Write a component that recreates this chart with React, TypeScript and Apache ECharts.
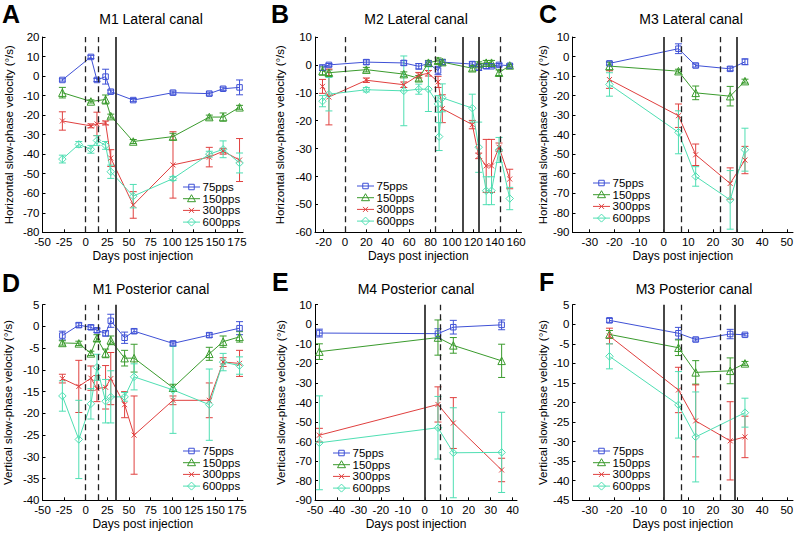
import React, { useEffect, useRef } from 'react';
import * as echarts from 'echarts';

const FONT = '"Liberation Sans", Arial, Helvetica, sans-serif';
const SERIES_NAMES = ['75pps', '150pps', '300pps', '600pps'];
const COLORS = ['#3f51d6', '#3a9b2d', '#e0403f', '#4fdfb3'];
const SYMBOLS = [
  'path://M0,0L10,0L10,10L0,10Z',
  'path://M5,0L10,9L0,9Z',
  'path://M0,0L10,10M0,10L10,0',
  'path://M5,0L10,5L5,10L0,5Z',
];
const SYMBOL_SIZES = [5.5, 7.5, 5, 7.5];

// [day, mean velocity, error]
const A_75 = [[-27, -2, 0.6], [6, 9.8, 0.8], [13, -2, 0.8], [23, -0.3, 3.8], [29, -8, 0.8], [55, -12.3, 0.8], [101, -8.5, 0.8], [143, -9, 0.8], [159, -6.5, 0.8], [178, -5.8, 3.8]];
const A_150 = [[-27, -8.5, 2.7], [6, -13, 0.8], [23, -12, 2.3], [29, -20.5, 1], [55, -33.5, 1], [101, -31, 1.7], [143, -21, 1], [159, -21, 2.1], [178, -16, 1]];
const A_300 = [[-27, -23, 4.7], [6, -25.5, 1], [13, -24.5, 6], [23, -24, 1], [29, -42, 4.3], [55, -66, 6.8], [101, -45.5, 17], [143, -41.5, 5], [159, -38.5, 1.5], [178, -43, 11]];
const A_600 = [[-27, -42.5, 2], [-8, -35, 1.5], [6, -37.5, 2], [13, -33, 2.5], [23, -35.5, 2], [29, -49, 3.4], [55, -61.5, 6], [101, -52.5, 1], [143, -40, 1.5], [159, -37.5, 4.3], [178, -44.5, 5.1]];

const B_75 = [[-21, -1, 1], [-15, 0, 0.5], [20, 1, 0.8], [55, 0.7, 0.8], [69, -0.5, 1], [78, 0.5, 0.5], [87, -2, 1.5], [91, 1, 0.8], [119, 0.3, 0.8], [125, -0.8, 1.2], [132, -0.5, 0.8], [137, -0.5, 0.5], [144, 0, 0.5], [154, -0.3, 0.5]];
const B_150 = [[-21, -2.2, 1.5], [-15, -2.8, 1], [20, -1.7, 0.8], [55, -3.3, 0.8], [69, -4.8, 1], [78, 0.8, 0.8], [87, 1.5, 1], [91, 1, 1], [119, -1.2, 1], [125, 0.3, 0.8], [132, 0.8, 0.8], [137, 0.8, 0.8], [144, -2.8, 1], [154, -0.2, 0.5]];
const B_300 = [[-21, -7.7, 2.5], [-15, -11.5, 10], [20, -5.5, 0.8], [55, -7.1, 1], [69, -3.7, 1], [78, -3, 1], [87, -6.1, 2], [91, -15.7, 5], [119, -21.4, 1.5], [125, -32.6, 1], [132, -36.2, 9.5], [137, -36.2, 9.5], [144, -29.5, 1.5], [154, -40.9, 3.5]];
const B_600 = [[-21, -13, 2], [-15, -10.5, 6], [20, -8.9, 0.8], [55, -9.3, 12.5], [69, -8.7, 1.8], [78, -8.7, 8], [87, -14, 3], [88, -25.7, 5], [91, -11.8, 5], [119, -15.5, 5], [125, -29.5, 9], [132, -45.1, 5], [137, -45.1, 5], [144, -30.5, 4.5], [154, -47.9, 4]];

const C_75 = [[-22, -3.5, 0.8], [6, 4, 2.5], [13, -4.6, 0.8], [27, -6.3, 1], [33, -2.7, 1.5]];
const C_150 = [[-22, -4.9, 2], [6, -7.5, 1], [13, -18.6, 3.5], [27, -20.3, 5], [33, -12.6, 1]];
const C_300 = [[-22, -11.8, 4.5], [6, -30.3, 6], [13, -50.3, 5.5], [27, -65, 8], [33, -53, 7]];
const C_600 = [[-22, -14.3, 6], [6, -38.8, 11], [13, -61.4, 5], [27, -73.4, 15], [33, -47.7, 11]];

const D_75 = [[-27, -2.1, 1], [-8, 0.3, 0.5], [6, -0.2, 0.5], [13, -0.9, 0.5], [23, -1.6, 0.6], [29, 1.3, 1.5], [45, -2.6, 1.3], [56, -1.1, 0.5], [101, -3.9, 0.4], [143, -2, 0.5], [178, -0.4, 1.5]];
const D_150 = [[-27, -3.8, 0.5], [-8, -3.9, 0.5], [6, -6.2, 0.5], [13, -2.7, 0.8], [23, -6.2, 1], [29, -3.2, 1], [45, -7.3, 1.8], [56, -7.3, 3.2], [101, -14.1, 0.8], [143, -6.3, 1.5], [159, -3.5, 1.3], [178, -2.4, 1.2]];
const D_300 = [[-27, -12, 1], [-8, -13.8, 6], [6, -11.9, 2.8], [13, -14.3, 3], [23, -14, 5], [29, -12, 6], [45, -18, 3], [56, -25, 9], [101, -17, 1], [143, -17, 4], [159, -8.2, 1], [178, -8.5, 3]];
const D_600 = [[-27, -16, 3.5], [-8, -26, 9], [6, -17.8, 3.5], [13, -9.4, 3], [23, -17.2, 5], [29, -16.2, 6], [45, -16.2, 1], [56, -11.6, 3], [101, -14.6, 10], [143, -18, 8.2], [159, -8.2, 2], [178, -9, 2]];

const E_75 = [[-48, -4.5, 2], [6, -4.8, 2.5], [13, -1.5, 3.5], [35, -0.3, 2.5]];
const E_150 = [[-48, -14, 4], [6, -6.8, 9], [13, -10.8, 4], [35, -18.7, 8.5]];
const E_300 = [[-48, -56.7, 3.5], [6, -41, 9], [13, -50.5, 13], [35, -74.5, 6]];
const E_600 = [[-48, -60.6, 24], [6, -52.9, 16], [13, -65.7, 23], [35, -65.5, 20.5]];

const F_75 = [[-22, 1, 0.5], [6, -2.3, 1.5], [13, -3.9, 0.4], [27, -2.5, 1.2], [33, -2.7, 0.3]];
const F_150 = [[-22, -2.6, 1], [6, -6, 2], [13, -12.3, 3], [27, -11.9, 3.3], [33, -10, 0.5]];
const F_300 = [[-22, -3, 2], [6, -16.8, 5.8], [13, -24.7, 9.2], [27, -29.8, 10], [33, -28.8, 5.3]];
const F_600 = [[-22, -8.2, 3.2], [6, -20.6, 8.5], [13, -28.8, 11.5], [33, -22.6, 3.7]];

// injection / event days (vertical lines)
const A_DASHED = [0, 14.5];
const A_SOLID = [35];
const B_DASHED = [0, 84, 145];
const B_SOLID = [110, 125];
const C_DASHED = [7, 23];
const C_SOLID = [0, 29.5];
const D_DASHED = [0, 14.5];
const D_SOLID = [35];
const E_DASHED = [7];
const E_SOLID = [0];
const F_DASHED = [7, 23];
const F_SOLID = [0, 29];

const TICKS_AD = [-50, -25, 0, 25, 50, 75, 100, 125, 150, 175];
const TICKS_B = [-20, 0, 20, 40, 60, 80, 100, 120, 140, 160];
const TICKS_CF = [-30, -20, -10, 0, 10, 20, 30, 40, 50];
const TICKS_E = [-50, -40, -30, -20, -10, 0, 10, 20, 30, 40];

const H_NAME = 'Horizontal slow-phase velocity (°/s)';
const V_NAME = 'Vertical slow-phase velocity (°/s)';

const PANELS = [
  { letter: 'A', title: 'M1 Lateral canal', grid: [42.5, 37, 200.5, 195.3], x: [-50, 182], xTicks: TICKS_AD, y: [-80, 20, 10], yName: H_NAME, yGap: 28, titleX: 151, titleY: 19, letterX: 2, letterY: 14, legend: [183, 187], dashed: A_DASHED, solid: A_SOLID, data: [A_75, A_150, A_300, A_600] },
  { letter: 'B', title: 'M2 Lateral canal', grid: [315, 37, 206.5, 195.3], x: [-28, 165], xTicks: TICKS_B, y: [-60, 10, 10], yName: H_NAME, yGap: 29, titleX: 416, titleY: 19, letterX: 271, letterY: 14, legend: [357, 186], dashed: B_DASHED, solid: B_SOLID, data: [B_75, B_150, B_300, B_600] },
  { letter: 'C', title: 'M3 Lateral canal', grid: [572.5, 37, 220.5, 195.3], x: [-37, 52.5], xTicks: TICKS_CF, y: [-90, 10, 10], yName: H_NAME, yGap: 19, titleX: 691, titleY: 19, letterX: 539, letterY: 14, legend: [593, 183], dashed: C_DASHED, solid: C_SOLID, data: [C_75, C_150, C_300, C_600] },
  { letter: 'D', title: 'M1 Posterior canal', grid: [42.5, 304.7, 200.5, 195.6], x: [-50, 182], xTicks: TICKS_AD, y: [-40, 5, 5], yName: V_NAME, yGap: 29, titleX: 151, titleY: 289, letterX: 2, letterY: 283, legend: [183, 451], dashed: D_DASHED, solid: D_SOLID, data: [D_75, D_150, D_300, D_600] },
  { letter: 'E', title: 'M4 Posterior canal', grid: [315, 304.7, 202, 195.6], x: [-50, 42], xTicks: TICKS_E, y: [-90, 10, 10], yName: V_NAME, yGap: 28, titleX: 416, titleY: 289, letterX: 272, letterY: 282, legend: [333, 453], dashed: E_DASHED, solid: E_SOLID, data: [E_75, E_150, E_300, E_600] },
  { letter: 'F', title: 'M3 Posterior canal', grid: [572.5, 304.7, 220.5, 195.6], x: [-37, 52.5], xTicks: TICKS_CF, y: [-45, 5, 5], yName: V_NAME, yGap: 20, titleX: 694, titleY: 289, letterX: 539, letterY: 282, legend: [593, 451], dashed: F_DASHED, solid: F_SOLID, data: [F_75, F_150, F_300, F_600] },
];

const LEGEND_ROW = 11.7;

function makeErrRenderer(color: string) {
  return (params: any, api: any) => {
    const x = api.value(0);
    const y = api.value(1);
    const e = api.value(2);
    const top = api.coord([x, y + e]);
    const bot = api.coord([x, y - e]);
    const w = 3.5;
    const style = { stroke: color, lineWidth: 1, fill: null };
    return {
      type: 'group',
      children: [
        { type: 'line', shape: { x1: top[0], y1: top[1], x2: bot[0], y2: bot[1] }, style },
        { type: 'line', shape: { x1: top[0] - w, y1: top[1], x2: top[0] + w, y2: top[1] }, style },
        { type: 'line', shape: { x1: bot[0] - w, y1: bot[1], x2: bot[0] + w, y2: bot[1] }, style },
      ],
    };
  };
}

function legendMarker(k: number, cx: number, cy: number): any {
  const style = { stroke: COLORS[k], fill: 'rgba(255,255,255,0)', lineWidth: 1 };
  if (k === 0) return { type: 'rect', shape: { x: cx - 2.75, y: cy - 2.75, width: 5.5, height: 5.5 }, style, silent: true };
  if (k === 1) return { type: 'polygon', shape: { points: [[cx, cy - 4], [cx - 4, cy + 3], [cx + 4, cy + 3]] }, style, silent: true };
  if (k === 2)
    return {
      type: 'group',
      silent: true,
      children: [
        { type: 'line', shape: { x1: cx - 2.5, y1: cy - 2.5, x2: cx + 2.5, y2: cy + 2.5 }, style: { stroke: COLORS[k], lineWidth: 1 } },
        { type: 'line', shape: { x1: cx - 2.5, y1: cy + 2.5, x2: cx + 2.5, y2: cy - 2.5 }, style: { stroke: COLORS[k], lineWidth: 1 } },
      ],
    };
  return { type: 'polygon', shape: { points: [[cx, cy - 4], [cx + 4, cy], [cx, cy + 4], [cx - 4, cy]] }, style, silent: true };
}

function buildOption() {
  const grid = PANELS.map((p) => ({ left: p.grid[0], top: p.grid[1], width: p.grid[2], height: p.grid[3], containLabel: false }));
  const xAxis = PANELS.map((p, i) => ({
    type: 'value',
    gridIndex: i,
    min: p.x[0],
    max: p.x[1],
    name: 'Days post injection',
    nameLocation: 'middle',
    nameGap: 18,
    nameTextStyle: { fontSize: 12, color: '#000', fontFamily: FONT },
    axisLine: { show: true, onZero: false, lineStyle: { color: '#000', width: 1 } },
    axisTick: { show: true, inside: true, length: 3, customValues: p.xTicks, lineStyle: { color: '#000' } },
    axisLabel: { customValues: p.xTicks, margin: 4, fontSize: 11.5, color: '#000', fontFamily: FONT },
    splitLine: { show: false },
  }));
  const yAxis = PANELS.map((p, i) => ({
    type: 'value',
    gridIndex: i,
    min: p.y[0],
    max: p.y[1],
    interval: p.y[2],
    name: p.yName,
    nameLocation: 'middle',
    nameGap: p.yGap,
    nameRotate: 90,
    nameTextStyle: { fontSize: 11.5, color: '#000', fontFamily: FONT },
    axisLine: { show: true, onZero: false, lineStyle: { color: '#000', width: 1 } },
    axisTick: { show: true, inside: true, length: 3, lineStyle: { color: '#000' } },
    axisLabel: { margin: 3, fontSize: 11.5, color: '#000', fontFamily: FONT },
    splitLine: { show: false },
  }));

  const series: any[] = [];
  PANELS.forEach((p, i) => {
    p.data.forEach((pts, s) => {
      series.push({
        type: 'custom',
        name: `err-${p.letter}-${s}`,
        xAxisIndex: i,
        yAxisIndex: i,
        data: pts,
        encode: { x: 0, y: 1 },
        renderItem: makeErrRenderer(COLORS[s]),
        silent: true,
        clip: false,
        z: 2,
      });
    });
    p.data.forEach((pts, s) => {
      const ser: any = {
        type: 'line',
        name: SERIES_NAMES[s],
        xAxisIndex: i,
        yAxisIndex: i,
        data: pts.map((d) => [d[0], d[1]]),
        symbol: SYMBOLS[s],
        symbolSize: SYMBOL_SIZES[s],
        itemStyle: { color: 'rgba(255,255,255,0)', borderColor: COLORS[s], borderWidth: 1 },
        lineStyle: { color: COLORS[s], width: 1 },
        silent: true,
        z: 3,
      };
      if (s === 0) {
        ser.markLine = {
          silent: true,
          symbol: ['none', 'none'],
          label: { show: false },
          animation: false,
          data: [
            ...p.dashed.map((v) => ({ xAxis: v, lineStyle: { type: [6, 4], width: 1.3, color: '#222' } })),
            ...p.solid.map((v) => ({ xAxis: v, lineStyle: { type: 'solid', width: 1.8, color: '#333' } })),
          ],
        };
      }
      series.push(ser);
    });
  });

  const graphic: any[] = [];
  PANELS.forEach((p) => {
    graphic.push({
      type: 'text',
      x: p.titleX,
      y: p.titleY,
      silent: true,
      style: { text: p.title, fill: '#000', font: `14px ${FONT}`, textAlign: 'center', textVerticalAlign: 'middle' },
    });
    graphic.push({
      type: 'text',
      x: p.letterX,
      y: p.letterY,
      silent: true,
      style: { text: p.letter, fill: '#000', font: `bold 25px ${FONT}`, textAlign: 'left', textVerticalAlign: 'middle' },
    });
    SERIES_NAMES.forEach((name, k) => {
      const lx = p.legend[0];
      const cy = p.legend[1] + k * LEGEND_ROW;
      graphic.push({ type: 'line', silent: true, shape: { x1: lx, y1: cy, x2: lx + 17, y2: cy }, style: { stroke: COLORS[k], lineWidth: 1 } });
      graphic.push(legendMarker(k, lx + 8.5, cy));
      graphic.push({
        type: 'text',
        x: lx + 19.5,
        y: cy,
        silent: true,
        style: { text: name, fill: '#000', font: `11.5px ${FONT}`, textAlign: 'left', textVerticalAlign: 'middle' },
      });
    });
  });

  return {
    animation: false,
    backgroundColor: '#fff',
    textStyle: { fontFamily: FONT },
    grid,
    xAxis,
    yAxis,
    series,
    graphic,
  };
}

export default function App() {
  const ref = useRef<HTMLDivElement>(null);
  useEffect(() => {
    if (!ref.current) return;
    const chart = echarts.init(ref.current, undefined, { renderer: 'svg' });
    chart.setOption(buildOption() as any);
    return () => chart.dispose();
  }, []);
  return <div ref={ref} style={{ position: 'fixed', left: 0, top: 0, width: 798, height: 538, background: '#fff' }} />;
}
